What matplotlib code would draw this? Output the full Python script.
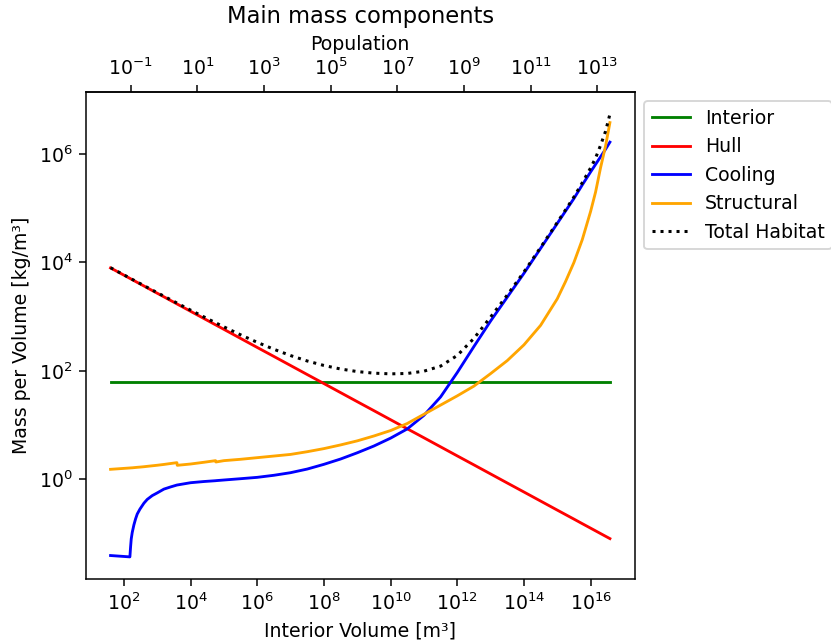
import numpy as np
import matplotlib
matplotlib.use("Agg")
import matplotlib.pyplot as plt
from matplotlib.ticker import NullLocator

# interior volume grid, log10 of m^3
volume_log = [1.60, 2.18, 2.20, 2.22, 2.25, 2.30, 2.35, 2.40, 2.48, 2.60, 2.70,
              2.85, 3.0, 3.2, 3.4, 3.59, 3.60, 4.0, 4.4, 4.75, 4.76, 5.0, 5.5,
              6.0, 6.5, 7.0, 7.5, 8.0, 8.5, 9.0, 9.5, 10.0, 10.5, 11.0, 11.5,
              12.0, 12.5, 13.0, 13.5, 14.0, 14.5, 15.0, 15.25, 15.5, 15.75,
              16.0, 16.15, 16.3, 16.45, 16.58]

# mass per volume [kg/m^3] (log10 for curves)
interior = 62
hull_log = [3.900, 3.707, 3.700, 3.693, 3.683, 3.667, 3.650, 3.633, 3.607,
            3.567, 3.533, 3.483, 3.433, 3.367, 3.300, 3.237, 3.233, 3.100,
            2.967, 2.850, 2.847, 2.767, 2.600, 2.433, 2.267, 2.100, 1.933,
            1.767, 1.600, 1.433, 1.267, 1.100, 0.933, 0.767, 0.600, 0.433,
            0.267, 0.100, -0.067, -0.233, -0.400, -0.567, -0.650, -0.733,
            -0.817, -0.900, -0.950, -1.000, -1.050, -1.093]
cooling_log = [-1.405, -1.43, -1.25, -1.10, -0.98, -0.84, -0.73, -0.64, -0.55,
               -0.44, -0.37, -0.30, -0.25, -0.18, -0.14, -0.105, -0.104, -0.062,
               -0.04, -0.025, -0.024, -0.012, 0.012, 0.037, 0.075, 0.123, 0.19,
               0.277, 0.375, 0.49, 0.615, 0.76, 0.93, 1.18, 1.52, 1.97, 2.45,
               2.92, 3.36, 3.80, 4.26, 4.72, 4.95, 5.18, 5.43, 5.67, 5.81, 5.95,
               6.09, 6.22]
structural_log = [0.185, 0.21, 0.211, 0.212, 0.213, 0.216, 0.219, 0.222, 0.226,
                  0.233, 0.24, 0.25, 0.26, 0.275, 0.292, 0.308, 0.259, 0.283,
                  0.315, 0.345, 0.32, 0.345, 0.37, 0.40, 0.43, 0.46, 0.51, 0.567,
                  0.635, 0.71, 0.80, 0.90, 1.03, 1.20, 1.37, 1.54, 1.72, 1.95,
                  2.19, 2.48, 2.84, 3.33, 3.65, 4.00, 4.42, 4.94, 5.30, 5.75,
                  6.15, 6.58]

m3_per_person = 1600

bottom_ticks = [1e2, 1e4, 1e6, 1e8, 1e10, 1e12, 1e14, 1e16]
top_ticks = [1e-1, 1e1, 1e3, 1e5, 1e7, 1e9, 1e11, 1e13]
y_ticks = [1e0, 1e2, 1e4, 1e6]

volume = 10 ** np.array(volume_log)
interior_arr = np.full(len(volume), interior, dtype=float)
hull = 10 ** np.array(hull_log)
cooling = 10 ** np.array(cooling_log)
structural = 10 ** np.array(structural_log)
total = interior_arr + hull + cooling + structural

dpi = 136
fig = plt.figure(figsize=(831 / dpi, 643 / dpi), dpi=dpi)
ax = fig.add_axes([0.103, 0.0995, 0.661, 0.7575])

ax.plot(volume, interior_arr, color='green', lw=1.5, label='Interior')
ax.plot(volume, hull, color='red', lw=1.5, label='Hull')
ax.plot(volume, cooling, color='blue', lw=1.5, label='Cooling')
ax.plot(volume, structural, color='orange', lw=1.5, label='Structural')
ax.plot(volume, total, color='black', ls=':', lw=1.6, label='Total Habitat')

ax.set_xscale('log')
ax.set_yscale('log')
ax.set_xticks(bottom_ticks)
ax.set_yticks(y_ticks)
ax.xaxis.set_minor_locator(NullLocator())
ax.yaxis.set_minor_locator(NullLocator())
ax.set_xlabel('Interior Volume [m³]')
ax.set_ylabel('Mass per Volume [kg/m³]')

secax = ax.secondary_xaxis('top', functions=(lambda v: v / m3_per_person,
                                             lambda p: p * m3_per_person))
secax.set_xticks(top_ticks)
secax.xaxis.set_minor_locator(NullLocator())
secax.set_xlabel('Population')

ax.set_title('Main mass components')
ax.legend(loc='upper left', bbox_to_anchor=(1, 1))

fig.savefig('out.png', dpi=dpi)
